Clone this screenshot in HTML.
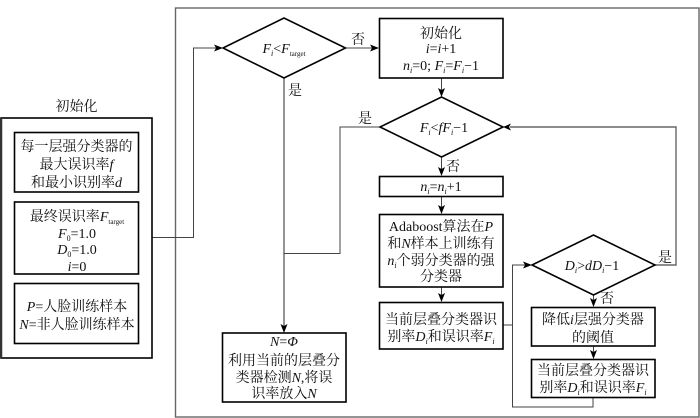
<!DOCTYPE html>
<html><head><meta charset="utf-8">
<style>
html,body{margin:0;padding:0;background:#fff;width:700px;height:418px;overflow:hidden}
svg{display:block;filter:blur(0.3px)}
text{font-family:"Liberation Serif","Noto Serif CJK SC",serif;font-size:14px;fill:#111;text-anchor:middle}
.i{font-style:italic}
.s{font-size:8px}
.t{font-size:7px}
.b{fill:#fff;stroke:#000;stroke-width:1.6}
.l{fill:none;stroke:#444;stroke-width:1}
.g{fill:none;stroke:#666;stroke-width:1.4}
.a{fill:#000}
</style></head><body>
<svg width="700" height="418" viewBox="0 0 700 418">
<rect class="g" x="175.500" y="8" width="523.500" height="409"/>
<path class="l" d="M152 237.500H193.500V48H216"/>
<path class="g" d="M284 78V326"/>
<path class="l" d="M284 253.500H340V127H380"/>
<path class="l" d="M346 48H372"/>
<path class="l" d="M441.500 78V90M441.500 157V170M441.500 196V207M441.500 287V296M593.500 295V301M593.500 346V353"/>
<path class="g" d="M510 127H676V265H655"/>
<path class="l" d="M503 325H512.500V265H525M512.500 325V407H593V397"/>

<polygon class="b" points="223,48 284,18 345.500,48 284,78"/>
<polygon class="b" points="380,127 441.500,97 503,127 441.500,157"/>
<polygon class="b" points="532,265 593.500,235 655,265 593.500,295"/>

<rect class="b" x="1" y="118" width="151" height="240"/>
<path d="M1 118V358" stroke="#333" stroke-width="2.500"/>
<rect class="b" x="14.500" y="132.500" width="124" height="59.500"/>
<rect class="b" x="14.500" y="202" width="124" height="72"/>
<rect class="b" x="14.500" y="283.500" width="124" height="60"/>
<rect class="b" x="222.500" y="333" width="123.500" height="69"/>
<rect class="b" x="379.500" y="18.500" width="123.500" height="59.500"/>
<rect class="b" x="379.500" y="176.500" width="123.500" height="20"/>
<rect class="b" x="379.500" y="214.500" width="123.500" height="72.500"/>
<rect class="b" x="379.500" y="302.500" width="123.500" height="46.500"/>
<rect class="b" x="531.500" y="307.500" width="123.500" height="38.500"/>
<rect class="b" x="531.500" y="359.500" width="123.500" height="38"/>

<polygon class="a" points="223,48 214,44.500 216,48 214,51.500"/>
<polygon class="a" points="379,48 370,44.500 372,48 370,51.500"/>
<polygon class="a" points="441.500,97 438,88 441.500,90 445,88"/>
<polygon class="a" points="441.500,176 438,167 441.500,169 445,167"/>
<polygon class="a" points="441.500,214 438,205 441.500,207 445,205"/>
<polygon class="a" points="441.500,302 438,293 441.500,295 445,293"/>
<polygon class="a" points="503,127 511,123.500 509,127 511,130.500"/>
<polygon class="a" points="532,265 523,261.500 525,265 523,268.500"/>
<polygon class="a" points="593.500,307 590,298 593.500,300 597,298"/>
<polygon class="a" points="593.500,359 590,350 593.500,352 597,350"/>
<polygon class="a" points="284,333 280.500,324 284,326 287.500,324"/>

<text x="76.500" y="111">初始化</text>
<text x="76.500" y="151">每一层强分类器的</text>
<text x="76.500" y="169">最大误识率<tspan class="i">f</tspan></text>
<text x="76.500" y="187">和最小识别率<tspan class="i">d</tspan></text>
<text x="77" y="221">最终误识率<tspan class="i">F</tspan><tspan class="t" dy="3">target</tspan></text>
<text x="77" y="238"><tspan class="i">F</tspan><tspan class="s" dy="3">0</tspan><tspan dy="-3">=1.0</tspan></text>
<text x="77" y="254"><tspan class="i">D</tspan><tspan class="s" dy="3">0</tspan><tspan dy="-3">=1.0</tspan></text>
<text x="77" y="271"><tspan class="i">i</tspan>=0</text>
<text x="77" y="311"><tspan class="i">P</tspan>=人脸训练样本</text>
<text x="77" y="329"><tspan class="i">N</tspan>=非人脸训练样本</text>

<text x="284" y="53"><tspan class="i">F</tspan><tspan class="s i" dy="3">i</tspan><tspan dy="-3">&lt;</tspan><tspan class="i">F</tspan><tspan class="t" dy="3">target</tspan></text>
<text x="358" y="44">否</text>
<text x="295" y="95">是</text>
<text x="365" y="123">是</text>
<text x="441" y="38">初始化</text>
<text x="441" y="53"><tspan class="i">i</tspan>=<tspan class="i">i</tspan>+1</text>
<text x="441" y="70"><tspan class="i">n</tspan><tspan class="s i" dy="3">i</tspan><tspan dy="-3">=0; </tspan><tspan class="i">F</tspan><tspan class="s i" dy="3">i</tspan><tspan dy="-3">=</tspan><tspan class="i">F</tspan><tspan class="s i" dy="3">i</tspan><tspan dy="-3">−1</tspan></text>
<text x="444" y="132"><tspan class="i">F</tspan><tspan class="s i" dy="3">i</tspan><tspan dy="-3">&lt;</tspan><tspan class="i">fF</tspan><tspan class="s i" dy="3">i</tspan><tspan dy="-3">−1</tspan></text>
<text x="453" y="171">否</text>
<text x="441" y="191"><tspan class="i">n</tspan><tspan class="s i" dy="3">i</tspan><tspan dy="-3">=</tspan><tspan class="i">n</tspan><tspan class="s i" dy="3">i</tspan><tspan dy="-3">+1</tspan></text>
<text x="441" y="231">Adaboost算法在<tspan class="i">P</tspan></text>
<text x="441" y="248">和<tspan class="i">N</tspan>样本上训练有</text>
<text x="441" y="265"><tspan class="i">n</tspan><tspan class="s i" dy="3">i</tspan><tspan dy="-3">个弱分类器的强</tspan></text>
<text x="441" y="281">分类器</text>
<text x="441" y="324">当前层叠分类器识</text>
<text x="441" y="341">别率<tspan class="i">D</tspan><tspan class="s i" dy="3">i</tspan><tspan dy="-3">和误识率</tspan><tspan class="i">F</tspan><tspan class="s i" dy="3">i</tspan></text>
<text x="592" y="270"><tspan class="i">D</tspan><tspan class="s i" dy="3">i</tspan><tspan dy="-3">&gt;</tspan><tspan class="i">dD</tspan><tspan class="s i" dy="3">i</tspan><tspan dy="-3">−1</tspan></text>
<text x="665" y="262">是</text>
<text x="607" y="303">否</text>
<text x="593" y="324">降低<tspan class="i">i</tspan>层强分类器</text>
<text x="593" y="342">的阈值</text>
<text x="593" y="375">当前层叠分类器识</text>
<text x="593" y="392">别率<tspan class="i">D</tspan><tspan class="s i" dy="3">i</tspan><tspan dy="-3">和误识率</tspan><tspan class="i">F</tspan><tspan class="s i" dy="3">i</tspan></text>
<text x="284" y="346"><tspan class="i">N</tspan>=<tspan class="i">Φ</tspan></text>
<text x="284" y="365">利用当前的层叠分</text>
<text x="284" y="382">类器检测<tspan class="i">N</tspan>,将误</text>
<text x="284" y="398">识率放入<tspan class="i">N</tspan></text>
</svg>
</body></html>
